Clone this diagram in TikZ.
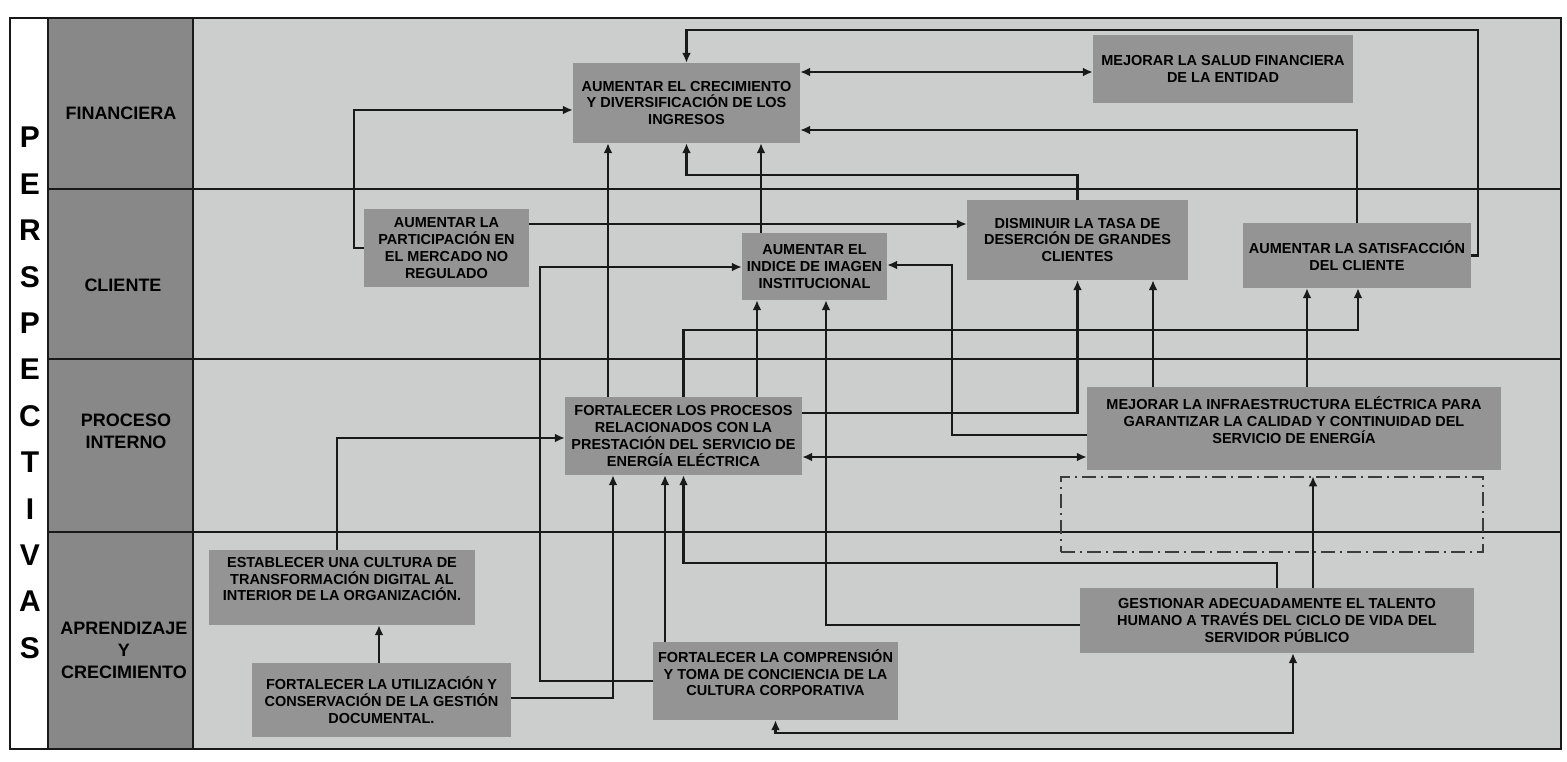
\documentclass[tikz,border=0pt]{standalone}
\usepackage{fontspec}
\setmainfont{Liberation Sans}
\usetikzlibrary{arrows.meta}
\definecolor{fondo}{RGB}{204,205,205}
\definecolor{cajagris}{RGB}{148,148,148}
\definecolor{columna}{RGB}{136,136,136}
\definecolor{trazo}{RGB}{25,25,25}

\begin{document}
\begin{tikzpicture}[x=1pt,y=-1pt,
  objetivo/.style={fill=cajagris, inner sep=0pt, align=center, font=\bfseries\fontsize{14.5}{16.8}\selectfont},
  perspectiva/.style={align=center, font=\bfseries\fontsize{18}{22}\selectfont},
  flecha/.style={draw=trazo, line width=2.3pt, -{Latex[length=10pt,width=9pt]}},
  doble/.style={flecha, {Latex[length=10pt,width=9pt]}-{Latex[length=10pt,width=9pt]}}]
\useasboundingbox (0,0) rectangle (1567,761);
\fill[white] (0,0) rectangle (1567,761);
\fill[fondo] (193,18) rectangle (1561,749);
\fill[columna] (48,18) rectangle (193,749);
\draw[trazo, line width=1.2pt] (48,189) -- (1561,189) (48,359) -- (1561,359) (48,532) -- (1561,532)
  (48,18) -- (48,749) (193,18) -- (193,749);
\draw[trazo, line width=2pt] (10,18) rectangle (1561,749);

\node[align=center, font=\bfseries\fontsize{30}{46.4}\selectfont] (titulo) at (30,393) {P\\E\\R\\S\\P\\E\\C\\T\\I\\V\\A\\S};
\node[perspectiva] (fin) at (121,113) {FINANCIERA};
\node[perspectiva] (cli) at (123,285) {CLIENTE};
\node[perspectiva] (pro) at (126,431) {PROCESO\\INTERNO};
\node[perspectiva] (apr) at (124,650) {APRENDIZAJE\\Y\\CRECIMIENTO};

\node[objetivo, minimum width=227pt, minimum height=80pt] (ingresos) at (686.5,103) {AUMENTAR EL CRECIMIENTO\\Y DIVERSIFICACIÓN DE LOS\\INGRESOS};
\node[objetivo, minimum width=260pt, minimum height=68pt] (salud) at (1223,69) {MEJORAR LA SALUD FINANCIERA\\DE LA ENTIDAD};
\node[objetivo, minimum width=165pt, minimum height=78pt] (mercado) at (446.5,248) {AUMENTAR LA\\PARTICIPACIÓN EN\\EL MERCADO NO\\REGULADO};
\node[objetivo, minimum width=145pt, minimum height=67pt] (imagen) at (814.5,266.5) {AUMENTAR EL\\INDICE DE IMAGEN\\INSTITUCIONAL};
\node[objetivo, minimum width=221pt, minimum height=80pt] (desercion) at (1077.5,240) {DISMINUIR LA TASA DE\\DESERCIÓN DE GRANDES\\CLIENTES};
\node[objetivo, minimum width=228pt, minimum height=65pt] (satis) at (1357,255.5) {AUMENTAR LA SATISFACCIÓN\\DEL CLIENTE};
\node[objetivo, minimum width=237pt, minimum height=78pt] (procesos) at (683.5,436) {FORTALECER LOS PROCESOS\\RELACIONADOS CON LA\\PRESTACIÓN DEL SERVICIO DE\\ENERGÍA ELÉCTRICA};
\node[objetivo, minimum width=414pt, minimum height=83pt] (infra) at (1294,428.5) {MEJORAR LA INFRAESTRUCTURA ELÉCTRICA PARA\\GARANTIZAR LA CALIDAD Y CONTINUIDAD DEL\\SERVICIO DE ENERGÍA\\ \mbox{}};
\node[draw=trazo!85, line width=1.3pt, dash pattern=on 14pt off 5pt on 2pt off 5pt, inner sep=0pt,
  minimum width=422pt, minimum height=75pt] (reserva) at (1272,514.5) {};
\node[objetivo, minimum width=266pt, minimum height=75pt] (digital) at (342,587.5) {ESTABLECER UNA CULTURA DE\\TRANSFORMACIÓN DIGITAL AL\\INTERIOR DE LA ORGANIZACIÓN.\\ \mbox{}};
\node[objetivo, minimum width=259pt, minimum height=74pt] (documental) at (381.5,700) {FORTALECER LA UTILIZACIÓN Y\\CONSERVACIÓN DE LA GESTIÓN\\DOCUMENTAL.};
\node[objetivo, minimum width=245pt, minimum height=78pt] (cultura) at (775.5,681) {FORTALECER LA COMPRENSIÓN\\Y TOMA DE CONCIENCIA DE LA\\CULTURA CORPORATIVA\\ \mbox{}};
\node[objetivo, minimum width=394pt, minimum height=65pt] (talento) at (1277,620.5) {GESTIONAR ADECUADAMENTE EL TALENTO\\HUMANO A TRAVÉS DEL CICLO DE VIDA DEL\\SERVIDOR PÚBLICO};

\draw[flecha] (satis.east) -| (1478,30) -| (ingresos.north);
\draw[doble] (ingresos.east |- 0,72) -- (salud.west |- 0,72);
\draw[flecha] (satis.north) |- (ingresos.east |- 0,130);
\draw[flecha] (desercion.north) -- (desercion.north |- 0,175) -| (ingresos.south);
\draw[flecha] (mercado.west) -- ++(-10,0) |- (ingresos.west |- 0,110);
\draw[flecha] (mercado.east |- 0,224) -- (desercion.west |- 0,224);
\draw[flecha] (imagen.north -| 761,0) -- (ingresos.south -| 761,0);
\draw[flecha] (procesos.north -| 608,0) -- (ingresos.south -| 608,0);
\draw[flecha] (cultura.west) -| (540,267) -- (imagen.west |- 0,267);
\draw[flecha] (infra.west |- 0,435) -| (952,265) -- (imagen.east |- 0,265);
\draw[flecha] (procesos.north -| 757,0) -- (imagen.south -| 757,0);
\draw[flecha] (talento.west |- 0,625) -| (imagen.south -| 826,0);
\draw[flecha] (procesos.north) |- (1358,330) -- (satis.south -| 1358,0);
\draw[flecha] (procesos.east |- 0,413) -| (desercion.south);
\draw[flecha] (infra.north -| 1153,0) -- (desercion.south -| 1153,0);
\draw[flecha] (infra.north -| 1307,0) -- (satis.south -| 1307,0);
\draw[doble] (procesos.east |- 0,457) -- (infra.west |- 0,457);
\draw[flecha] (digital.north -| 337,0) |- (procesos.west |- 0,438);
\draw[flecha] (documental.north -| 379,0) -- (digital.south -| 379,0);
\draw[flecha] (documental.east |- 0,698) -| (procesos.south -| 613,0);
\draw[flecha] (cultura.north -| 665,0) -- (procesos.south -| 665,0);
\draw[flecha] (talento.north) -- (talento.north |- 0,563) -| (procesos.south);
\draw[flecha] (talento.north -| 1313,0) -- (reserva.north -| 1313,0);
\draw[doble] (cultura.south) |- (1293,733) -- (talento.south -| 1293,0);
\end{tikzpicture}
\end{document}
